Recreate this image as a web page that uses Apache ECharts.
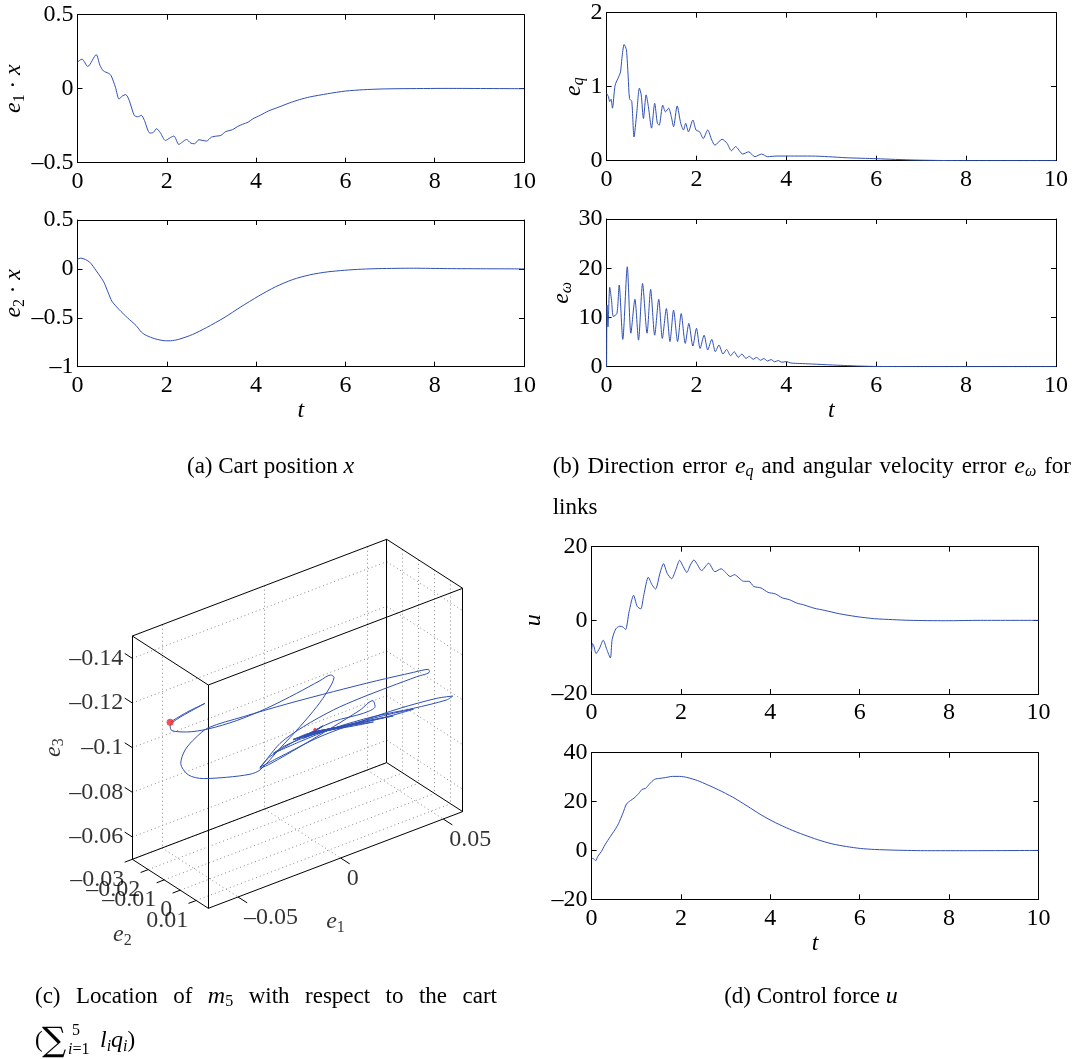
<!DOCTYPE html>
<html>
<head>
<meta charset="utf-8">
<script src="https://cdn.jsdelivr.net/npm/echarts@6/dist/echarts.min.js"></script>
<style>
  html, body { margin: 0; padding: 0; background: #fff; }
  #chart { width: 1076px; height: 1059px; }
</style>
</head>
<body>
<div id="chart"></div>
<script>
// ---- data ----
// (a) e1 . x
const tA1 = [0,0.1,0.23,0.42,0.5,0.58,0.69,0.75,0.85,0.93,1.0,1.08,1.16,1.27,1.35,1.43,1.5,1.62,1.7,1.77,1.85,1.97,2.08,2.16,2.27,2.35,2.44,2.54,2.62,2.72,2.81,2.89,3.0,3.12,3.21,3.32,3.47,3.59,3.7,3.82,3.93,4.09,4.28,4.51,4.74,4.97,5.2,5.6,6.0,6.4,6.8,7.2,8.3,10];
const valA1 = [0.18,0.20,0.15,0.23,0.16,0.12,0.105,0.09,0.01,-0.07,-0.05,-0.04,-0.08,-0.18,-0.19,-0.18,-0.215,-0.30,-0.295,-0.27,-0.295,-0.35,-0.33,-0.32,-0.377,-0.36,-0.343,-0.368,-0.372,-0.345,-0.35,-0.354,-0.327,-0.32,-0.316,-0.29,-0.277,-0.255,-0.24,-0.226,-0.203,-0.18,-0.15,-0.124,-0.097,-0.074,-0.056,-0.034,-0.016,-0.007,-0.002,0,0.002,0];
// (a) e2 . x
const tA2 = [0,0.08,0.27,0.42,0.58,0.69,0.77,0.93,1.12,1.31,1.43,1.54,1.73,1.97,2.08,2.27,2.58,2.89,3.28,3.66,4.05,4.43,4.82,5.2,5.59,5.98,6.36,6.75,7.52,8.29,10];
const valA2 = [0.10,0.11,0.07,-0.02,-0.126,-0.245,-0.33,-0.415,-0.5,-0.578,-0.646,-0.68,-0.714,-0.735,-0.735,-0.72,-0.67,-0.6,-0.5,-0.388,-0.279,-0.184,-0.109,-0.061,-0.031,-0.014,-0.003,0.003,0.007,0.003,0];
// (b) e_q
const tB1 = [0,0.04,0.07,0.1,0.13,0.19,0.27,0.31,0.34,0.39,0.44,0.48,0.51,0.56,0.61,0.67,0.73,0.77,0.82,0.88,0.93,1.0,1.07,1.13,1.17,1.25,1.31,1.38,1.44,1.49,1.57,1.65,1.71,1.76,1.82,1.92,1.99,2.07,2.15,2.25,2.34,2.41,2.57,2.68,2.78,2.87,3.03,3.16,3.3,3.45,3.58,3.79,4.18,4.56,4.94,5.33,6.0,6.86,8.0,10];
const valB1 = [0.91,0.865,0.8,0.83,0.71,1.02,1.135,1.2,1.38,1.57,1.5,1.135,0.84,0.8,0.32,0.64,0.98,0.89,0.57,0.89,0.73,0.44,0.775,0.505,0.48,0.75,0.66,0.71,0.595,0.46,0.74,0.505,0.415,0.505,0.39,0.55,0.415,0.39,0.30,0.415,0.28,0.21,0.29,0.234,0.135,0.19,0.09,0.12,0.054,0.09,0.054,0.063,0.063,0.063,0.054,0.04,0.027,0.009,0,0];
// (b) e_omega
const tB2 = [0,0.01,0.03,0.07,0.11,0.15,0.23,0.28,0.36,0.46,0.54,0.63,0.71,0.8,0.9,0.98,1.07,1.16,1.24,1.33,1.41,1.49,1.58,1.66,1.75,1.83,1.92,2.0,2.08,2.17,2.25,2.34,2.42,2.5,2.59,2.67,2.76,2.84,2.93,3.01,3.1,3.18,3.26,3.34,3.42,3.5,3.58,3.66,3.74,3.82,3.9,4.0,4.1,4.3,4.56,5.02,5.56,6.0,6.86,10];
const valB2 = [0,12.5,8.1,16.1,13.5,10.2,10.8,16.6,5.55,20.3,6.8,13.7,5.4,16.9,6.8,15.7,6.4,13.7,5.75,11.8,5.1,11.5,5.1,10.8,4.74,8.8,4.2,7.8,3.7,6.4,3.4,5.55,3.05,4.4,2.57,3.5,2.23,3.05,1.9,2.57,1.7,2.1,1.5,1.9,1.3,1.65,1.15,1.45,1.0,1.25,0.9,1.05,0.75,0.65,0.55,0.35,0.15,0.05,0.01,0];
// (d) u, upper
const tD1 = [0,0.02,0.05,0.1,0.18,0.26,0.34,0.42,0.46,0.54,0.63,0.7,0.76,0.84,0.94,1.02,1.1,1.17,1.27,1.35,1.43,1.53,1.61,1.69,1.79,1.89,1.97,2.05,2.13,2.21,2.29,2.37,2.46,2.62,2.76,2.9,3.0,3.1,3.2,3.3,3.4,3.52,3.63,3.79,3.95,4.11,4.27,4.43,4.59,4.75,4.98,5.22,5.54,5.94,6.33,6.73,7.13,7.92,8.71,10];
const valD1 = [-8.4,-6.3,-7.0,-9.0,-7.5,-5.4,-7.9,-10.2,-5.2,-2.35,-1.6,-1.8,-2.5,2.4,6.8,3.8,3.1,7.0,11.7,9.7,8.5,12.8,15.4,12.8,11.3,13.9,16.3,14.6,13.0,15.0,16.4,15.1,13.5,15.5,13.2,14.0,13.0,11.9,12.4,11.5,10.6,10.6,9.2,8.8,7.6,7.2,6.1,5.6,4.7,4.2,3.3,2.7,1.8,1.0,0.45,0.2,0,-0.1,0,0];
// (d) u, lower
const tD2 = [0,0.05,0.09,0.14,0.22,0.3,0.42,0.52,0.6,0.7,0.78,0.87,0.95,1.06,1.13,1.21,1.29,1.41,1.53,1.65,1.81,1.97,2.13,2.37,2.6,2.84,3.16,3.48,3.79,4.11,4.43,4.75,5.06,5.38,5.7,6.02,6.33,6.81,7.52,8.32,10];
const valD2 = [-3.1,-3.5,-4.2,-2.4,-0.4,2.3,5.7,8.4,10.9,15.2,19.0,20.4,21.4,23.4,25.0,25.4,27.1,29.1,29.5,29.8,30.3,30.3,29.9,28.6,26.8,24.8,21.8,18.2,14.6,11.4,8.7,6.4,4.4,2.7,1.6,0.8,0.4,0.1,-0.1,-0.1,0];

// (c) 3D path of m5: [e1, e2, e3]
const traj = [
  [-0.0646,-0.0062,-0.1224],[-0.0565,-0.0062,-0.1240],[-0.0476,-0.0062,-0.1249],[-0.0541,-0.0062,-0.1239],
  [-0.0611,-0.0062,-0.1226],[-0.0646,-0.0062,-0.1207],[-0.0637,-0.0062,-0.1183],[-0.0565,-0.0062,-0.1152],
  [-0.0460,-0.0062,-0.1129],[-0.0321,-0.0062,-0.1118],[-0.0175,-0.0062,-0.1122],[-0.0029,-0.0062,-0.1138],
  [0.0085,-0.0062,-0.1155],[0.0137,-0.0062,-0.1162],[0.0153,-0.0062,-0.1146],[0.0125,-0.0062,-0.1099],
  [0.0069,-0.0062,-0.1044],[-0.0013,-0.0062,-0.0983],[-0.0110,-0.0062,-0.0920],[-0.0208,-0.0062,-0.0857],
  [-0.0256,-0.0062,-0.0855],[-0.0370,-0.0062,-0.0881],[-0.0484,-0.0062,-0.0915],[-0.0557,-0.0062,-0.0957],
  [-0.0594,-0.0062,-0.1022],[-0.0573,-0.0062,-0.1074],[-0.0525,-0.0062,-0.1109],[-0.0460,-0.0062,-0.1134],
  [-0.0289,-0.0062,-0.1124],[-0.0078,-0.0062,-0.1107],[0.0150,-0.0062,-0.1083],[0.0361,-0.0062,-0.1058],
  [0.0540,-0.0062,-0.1033],[0.0613,-0.0062,-0.1021],[0.0618,-0.0062,-0.1008],[0.0556,-0.0062,-0.1008],
  [0.0426,-0.0062,-0.1009],[0.0280,-0.0062,-0.1008],[0.0150,-0.0062,-0.1001],[0.0004,-0.0062,-0.0977],
  [-0.0110,-0.0062,-0.0942],[-0.0208,-0.0062,-0.0864],[-0.0159,-0.0062,-0.0867],[-0.0013,-0.0062,-0.0893],
  [0.0150,-0.0062,-0.0926],[0.0280,-0.0062,-0.0955],[0.0342,-0.0062,-0.0976],[0.0353,-0.0062,-0.0945],
  [0.0296,-0.0062,-0.0935],[0.0150,-0.0062,-0.0949],[-0.0013,-0.0062,-0.0931],[-0.0159,-0.0062,-0.0900],
  [-0.0208,-0.0062,-0.0869],[-0.0078,-0.0062,-0.0886],[0.0085,-0.0062,-0.0904],[0.0280,-0.0062,-0.0903],
  [0.0475,-0.0062,-0.0895],[0.0654,-0.0062,-0.0877],[0.0732,-0.0062,-0.0860],[0.0702,-0.0062,-0.0853],
  [0.0540,-0.0062,-0.0872],[0.0345,-0.0062,-0.0903],[0.0150,-0.0062,-0.0919],[-0.0013,-0.0062,-0.0916],
  [-0.0143,-0.0062,-0.0909],[-0.0078,-0.0062,-0.0924],[0.0069,-0.0062,-0.0925],[0.0247,-0.0062,-0.0907],
  [0.0442,-0.0062,-0.0884],[0.0540,-0.0062,-0.0868],[0.0442,-0.0062,-0.0876],[0.0264,-0.0062,-0.0898],
  [0.0085,-0.0062,-0.0926],[-0.0045,-0.0062,-0.0935],[0.0020,-0.0062,-0.0939],[0.0150,-0.0062,-0.0919],
  [0.0312,-0.0062,-0.0896],[0.0442,-0.0062,-0.0872],[0.0312,-0.0062,-0.0892],[0.0166,-0.0062,-0.0913],
  [0.0052,-0.0062,-0.0933],[0.0117,-0.0062,-0.0926],[0.0247,-0.0062,-0.0900],[0.0345,-0.0062,-0.0879],
  [0.0247,-0.0062,-0.0895],[0.0117,-0.0062,-0.0920],[0.0036,-0.0062,-0.0933],[0.0004,-0.0062,-0.0935],
  [-0.0045,-0.0062,-0.0938],[0.0280,-0.0062,-0.0899],[-0.0013,-0.0062,-0.0935],[0.0247,-0.0062,-0.0904],
  [0.0004,-0.0062,-0.0935],[0.0215,-0.0062,-0.0910],[0.0020,-0.0062,-0.0936],[0.0183,-0.0062,-0.0915],
  [0.0028,-0.0062,-0.0936],[0.0150,-0.0062,-0.0920],[0.0036,-0.0062,-0.0936],[0.0126,-0.0062,-0.0924],
  [0.0004,-0.0062,-0.0925],[0.0093,-0.0062,-0.0945],[0.0012,-0.0062,-0.0928],[0.0098,-0.0062,-0.0948],
  [0.0044,-0.0062,-0.0936],[0.0109,-0.0062,-0.0927],[0.0052,-0.0062,-0.0936],[0.0093,-0.0062,-0.0930],
  [0.0060,-0.0062,-0.0935],[0.0060,-0.0062,-0.0946]
];
const e1Lim = [-0.0645, 0.0595];
const e2Lim = [-0.03, 0.0176];
const e3Lim = [-0.15, -0.05];   // -0.15 drawn at the top (reversed)
const e1Ticks = [-0.05, 0, 0.05];
const e2Ticks = [-0.03, -0.02, -0.01, 0, 0.01];
const e3Ticks = [-0.14, -0.12, -0.1, -0.08, -0.06];

// caption words
const capB = ['(b)', 'Direction', 'error', '{i|e}{si|q}', 'and', 'angular', 'velocity', 'error', '{i|e}{si|ω}', 'for'];
const capC = ['(c)', 'Location', 'of', '{i|m}{s|5}', 'with', 'respect', 'to', 'the', 'cart'];

// ---- styling ----
const FONT = 'Liberation Serif';
const BLUE = '#3050b4';
const TICK_FS = 24;
const minus = v => String(v).replace('-', '\u2013');

const rich = {
  n: { fontFamily: FONT, fontSize: 23, color: '#000' },
  i: { fontFamily: FONT, fontStyle: 'italic', fontSize: 24, color: '#000' },
  s: { fontFamily: FONT, fontSize: 16, color: '#000', padding: [11, 0, 0, 0] },
  si: { fontFamily: FONT, fontStyle: 'italic', fontSize: 16, color: '#000', padding: [11, 0, 0, 0] }
};

// 2D panels (layout only)
const panels = [
  { t: tA1, v: valA1, box: [77.5, 14.7, 446.5, 148], y: [-0.5, 0.5, 0.5], yName: '{i|e}{s|1}{n| · }{i|x}', yGap: 50, xName: '' },
  { t: tA2, v: valA2, box: [77.5, 220, 446.5, 146.7], y: [-1, 0.5, 0.5], yName: '{i|e}{s|2}{n| · }{i|x}', yGap: 50, xName: '{i|t}' },
  { t: tB1, v: valB1, box: [606.6, 12.7, 449.4, 148], y: [0, 2, 1], yName: '{i|e}{si|q}', yGap: 18, xName: '' },
  { t: tB2, v: valB2, box: [606.6, 219, 449.4, 147.7], y: [0, 30, 10], yName: '{i|e}{si|ω}', yGap: 22, xName: '{i|t}' },
  { t: tD1, v: valD1, box: [591.6, 546.7, 446.8, 147.3], y: [-20, 20, 20], yName: '{i|u}', yGap: 46, xName: '' },
  { t: tD2, v: valD2, box: [591.6, 752.7, 446.8, 146.6], y: [-20, 40, 20], yName: '', yGap: 40, xName: '{i|t}' }
];

const grids = [], xAxes = [], yAxes = [], series = [];
const axisCommon = {
  type: 'value',
  axisLine: { show: true, onZero: false, lineStyle: { color: '#000', width: 1 } },
  axisTick: { show: true, inside: true, length: 5, lineStyle: { color: '#000' } },
  splitLine: { show: false }
};

panels.forEach((p, k) => {
  grids.push({ left: p.box[0], top: p.box[1], width: p.box[2], height: p.box[3], outerBoundsMode: 'none' });
  xAxes.push(Object.assign({}, axisCommon, {
    gridIndex: k, position: 'bottom', min: 0, max: 10, interval: 2,
    axisLabel: { margin: 7, fontFamily: FONT, fontSize: TICK_FS, color: '#000' },
    name: p.xName, nameLocation: 'middle', nameGap: 26,
    nameTextStyle: { rich: rich }
  }));
  xAxes.push(Object.assign({}, axisCommon, {
    gridIndex: k, position: 'top', min: 0, max: 10, interval: 2, axisLabel: { show: false }
  }));
  yAxes.push(Object.assign({}, axisCommon, {
    gridIndex: k, position: 'left', min: p.y[0], max: p.y[1], interval: p.y[2],
    axisLabel: { margin: 4, fontFamily: FONT, fontSize: TICK_FS, color: '#000', formatter: minus },
    name: p.yName, nameLocation: 'middle', nameRotate: 90, nameGap: p.yGap,
    nameTextStyle: { rich: rich }
  }));
  yAxes.push(Object.assign({}, axisCommon, {
    gridIndex: k, position: 'right', min: p.y[0], max: p.y[1], interval: p.y[2], axisLabel: { show: false }
  }));
  series.push({
    type: 'line', xAxisIndex: 2 * k, yAxisIndex: 2 * k,
    data: p.t.map((t, j) => [t, p.v[j]]),
    showSymbol: false, smooth: 0.25,
    lineStyle: { color: BLUE, width: 1 }
  });
});

// ---- 3D panel (c): oblique projection onto a pixel-scaled hidden grid ----
const O = [132.3, 636], A = [254.4, -96.7], B = [76, 49], C = [0, 223.3];
function proj(a, b, c) {
  const f1 = (a - e1Lim[0]) / (e1Lim[1] - e1Lim[0]);
  const f2 = (b - e2Lim[0]) / (e2Lim[1] - e2Lim[0]);
  const f3 = (c - e3Lim[0]) / (e3Lim[1] - e3Lim[0]);
  return [O[0] + f1 * A[0] + f2 * B[0] + f3 * C[0], O[1] + f1 * A[1] + f2 * B[1] + f3 * C[1]];
}
const g3 = grids.length;
grids.push({ left: 0, top: 0, width: 1076, height: 1059, outerBoundsMode: 'none' });
xAxes.push({ type: 'value', gridIndex: g3, min: 0, max: 1076, show: false });
yAxes.push({ type: 'value', gridIndex: g3, min: 0, max: 1059, inverse: true, show: false });
const ax3 = { xAxisIndex: xAxes.length - 1, yAxisIndex: yAxes.length - 1 };

const L1 = e1Lim, L2 = e2Lim, L3 = e3Lim;
const r1 = L1[1] - L1[0], r2 = L2[1] - L2[0];
// box edges
const boxSegs = [];
[0, 1].forEach(i => [0, 1].forEach(j => {
  boxSegs.push([proj(L1[i], L2[j], L3[0]), proj(L1[i], L2[j], L3[1])]);
  boxSegs.push([proj(L1[0], L2[i], L3[j]), proj(L1[1], L2[i], L3[j])]);
  boxSegs.push([proj(L1[i], L2[0], L3[j]), proj(L1[i], L2[1], L3[j])]);
}));
// dotted grid on back wall, right wall and floor
const gridSegs = [];
e1Ticks.forEach(v => {
  gridSegs.push([proj(v, L2[0], L3[0]), proj(v, L2[0], L3[1])]);
  gridSegs.push([proj(v, L2[0], L3[1]), proj(v, L2[1], L3[1])]);
});
e3Ticks.forEach(v => {
  gridSegs.push([proj(L1[0], L2[0], v), proj(L1[1], L2[0], v)]);
  gridSegs.push([proj(L1[1], L2[0], v), proj(L1[1], L2[1], v)]);
});
e2Ticks.forEach(v => {
  gridSegs.push([proj(L1[1], v, L3[0]), proj(L1[1], v, L3[1])]);
  gridSegs.push([proj(L1[0], v, L3[1]), proj(L1[1], v, L3[1])]);
});
// tick marks
const tickSegs = [];
e3Ticks.forEach(v => tickSegs.push([proj(L1[0], L2[0], v), proj(L1[0], L2[0] - 0.1 * r2, v)]));
e1Ticks.forEach(v => tickSegs.push([proj(v, L2[1], L3[1]), proj(v, L2[1] + 0.12 * r2, L3[1])]));
e2Ticks.forEach(v => tickSegs.push([proj(L1[0], v, L3[1]), proj(L1[0] - 0.03 * r1, v, L3[1])]));

const lbl = (pos, text, extra) => ({
  value: pos,
  label: Object.assign({ show: true, formatter: text, fontFamily: FONT, fontSize: TICK_FS, color: '#000', rich: rich }, extra)
});
const labels3 = [];
e3Ticks.forEach(v => labels3.push(lbl(proj(L1[0], L2[0], v), minus(v), { position: 'left', distance: 9 })));
e1Ticks.forEach(v => labels3.push(lbl(proj(v, L2[1], L3[1]), minus(v), { position: 'right', distance: 6, offset: [0, 21] })));
e2Ticks.forEach(v => labels3.push(lbl(proj(L1[0], v, L3[1]), minus(v), { position: 'left', distance: 8, offset: [0, 20] })));
labels3.push(lbl(proj((L1[0] + L1[1]) / 2, L2[1], L3[1]), '{i|e}{s|1}', { position: 'inside', offset: [0, 62] }));
labels3.push(lbl(proj(L1[0], (L2[0] + L2[1]) / 2, L3[1]), '{i|e}{s|2}', { position: 'inside', offset: [-48, 51] }));
labels3.push(lbl(proj(L1[0], L2[0], (L3[0] + L3[1]) / 2), '{i|e}{s|3}', { position: 'inside', offset: [0, -79], rotate: 90 }));

series.push(
  Object.assign({ type: 'lines', coordinateSystem: 'cartesian2d', silent: true, z: 1,
    data: gridSegs.map(s => ({ coords: s })),
    lineStyle: { color: '#8a8a8a', width: 1, type: [1, 3], opacity: 1 } }, ax3),
  Object.assign({ type: 'lines', coordinateSystem: 'cartesian2d', silent: true, z: 2,
    data: boxSegs.concat(tickSegs).map(s => ({ coords: s })),
    lineStyle: { color: '#000', width: 1, opacity: 1 } }, ax3),
  Object.assign({ type: 'line', z: 3, showSymbol: false, smooth: 0.3,
    data: traj.map(p => proj(p[0], p[1], p[2])),
    lineStyle: { color: BLUE, width: 1 } }, ax3),
  Object.assign({ type: 'scatter', z: 4, symbolSize: 7,
    data: [proj(traj[0][0], traj[0][1], traj[0][2])],
    itemStyle: { color: '#f0282a' } }, ax3),
  Object.assign({ type: 'scatter', z: 4, symbolSize: 3,
    data: [proj(traj[traj.length - 1][0], traj[traj.length - 1][1], traj[traj.length - 1][2])],
    itemStyle: { color: '#f0282a' } }, ax3),
  Object.assign({ type: 'scatter', z: 5, symbolSize: 0, silent: true, data: labels3,
    itemStyle: { color: 'rgba(0,0,0,0)' } }, ax3)
);

// ---- captions ----
const measureCtx = document.createElement('canvas').getContext('2d');
const word = w => (w.indexOf('{') === 0 ? w : '{n|' + w + '}');
function wordWidth(w) {
  let total = 0;
  word(w).replace(/\{(\w+)\|([^}]*)\}/g, (m, st, txt) => {
    const s = rich[st];
    measureCtx.font = (s.fontStyle || 'normal') + ' ' + s.fontSize + 'px "' + FONT + '"';
    total += measureCtx.measureText(txt).width;
    return m;
  });
  return total;
}
const capStyle = (txt, x, y, align) => ({
  type: 'text', x: x, y: y, silent: true,
  style: { text: txt, rich: rich, fontFamily: FONT, fontSize: 23, fill: '#000',
    align: align || 'left', verticalAlign: 'middle', textAlign: align || 'left', textVerticalAlign: 'middle' }
});
// justified caption line, as in the typeset figure
function justify(words, x0, x1, y) {
  const widths = words.map(wordWidth);
  const gap = (x1 - x0 - widths.reduce((a, b) => a + b, 0)) / (words.length - 1);
  let x = x0;
  return words.map((w, k) => { const el = capStyle(word(w), x, y); x += widths[k] + gap; return el; });
}
let graphic = [];
graphic.push(capStyle('{n|(a) Cart position }{i|x}', 187, 466.7));
graphic = graphic.concat(justify(capB, 552.7, 1071, 466.7));
graphic.push(capStyle('{n|links}', 552.7, 508.3));
graphic = graphic.concat(justify(capC, 35, 497, 996.7));
graphic.push(capStyle('{n|(}', 35, 1041));
graphic.push({ type: 'text', x: 42, y: 1042, silent: true,
  style: { text: '\u2211', fontFamily: 'DejaVu Serif', fontSize: 34, fill: '#000', verticalAlign: 'middle', textVerticalAlign: 'middle' } });
graphic.push({ type: 'text', x: 72, y: 1031, silent: true,
  style: { text: '5', fontFamily: FONT, fontSize: 16, fill: '#000', verticalAlign: 'middle', textVerticalAlign: 'middle' } });
graphic.push({ type: 'text', x: 68, y: 1050, silent: true,
  style: { text: '{a|i}{b|=1}', rich: { a: { fontFamily: FONT, fontStyle: 'italic', fontSize: 16 }, b: { fontFamily: FONT, fontSize: 16 } },
    verticalAlign: 'middle', textVerticalAlign: 'middle' } });
graphic.push(capStyle('{i|l}{si|i}{i|q}{si|i}{n|)}', 100, 1041));
graphic.push(capStyle('{n|(d) Control force }{i|u}', 811, 996.7, 'center'));

const chart = echarts.init(document.getElementById('chart'));
chart.setOption({
  animation: false,
  backgroundColor: '#fff',
  grid: grids,
  xAxis: xAxes,
  yAxis: yAxes,
  series: series,
  graphic: graphic
});
</script>
</body>
</html>
